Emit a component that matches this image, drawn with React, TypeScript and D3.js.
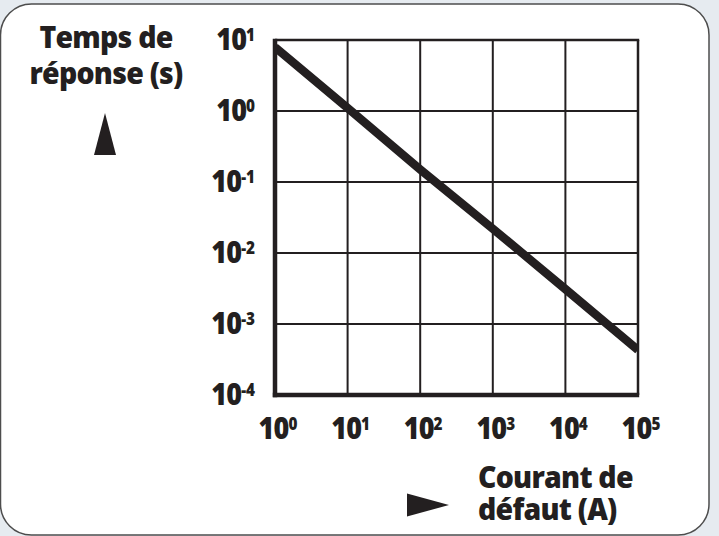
import React from "react";
import * as d3 from "d3";

const W = 719;
const H = 536;

// Data
const currents = [1, 10, 100, 1000, 10000, 100000];
const responseTimes = [7.9, 1.1, 0.15, 0.022, 0.0031, 0.00043];
const xTickExps = [0, 1, 2, 3, 4, 5];
const yTickExps = [1, 0, -1, -2, -3, -4];
const yTitle = ["Temps de", "réponse (s)"];
const xTitle = ["Courant de", "défaut (A)"];

const INK = "#231f20";
const FONT = "'Open Sans', 'Noto Sans', sans-serif";

export default function App() {
  const left = 275, right = 638, top = 40, bottom = 395;
  const x = d3.scaleLog().domain([1, 1e5]).range([left, right]);
  const y = d3.scaleLog().domain([1e-4, 10]).range([bottom, top]);
  const line = d3
    .line<number>()
    .x((_, i) => x(currents[i]))
    .y((d) => y(d));

  const supLabel = (e: number) => (e < 0 ? "-" + Math.abs(e) : String(e));

  const tick = (key: string, tx: number, ty: number, anchor: string, e: number) => (
    <text
      key={key}
      transform={`translate(${tx},${ty}) scale(0.9,1)`}
      textAnchor={anchor}
      fontFamily={FONT}
      fontWeight={800}
      fontSize={30}
      fill={INK}
      letterSpacing={-1}
    >
      10
      <tspan fontSize={17} dy={-9.3} letterSpacing={0}>
        {supLabel(e)}
      </tspan>
    </text>
  );

  return (
    <svg
      width={W}
      height={H}
      style={{ position: "fixed", left: 0, top: 0, background: "#e6ebf0" }}
    >
      <defs>
        <clipPath id="plotClip">
          <rect x={left} y={top} width={right - left} height={bottom - top} />
        </clipPath>
      </defs>
      <rect
        x={0.5}
        y={4}
        width={708.5}
        height={531}
        rx={31}
        ry={31}
        fill="#ffffff"
        stroke="#4d4d4d"
        strokeWidth={1.5}
      />

      {/* grid */}
      {xTickExps.slice(1, -1).map((e) => (
        <line
          key={"gx" + e}
          x1={x(Math.pow(10, e))}
          x2={x(Math.pow(10, e))}
          y1={top}
          y2={bottom}
          stroke={INK}
          strokeWidth={2}
        />
      ))}
      {yTickExps.slice(1, -1).map((e) => (
        <line
          key={"gy" + e}
          x1={left}
          x2={right}
          y1={y(Math.pow(10, e))}
          y2={y(Math.pow(10, e))}
          stroke={INK}
          strokeWidth={2}
        />
      ))}
      {/* top & right border */}
      <line x1={left} x2={right + 1.2} y1={top} y2={top} stroke={INK} strokeWidth={2.5} />
      <line x1={right} x2={right} y1={top} y2={bottom} stroke={INK} strokeWidth={2.5} />

      {/* curve */}
      <path
        d={line(responseTimes) || ""}
        fill="none"
        stroke={INK}
        strokeWidth={8.5}
        clipPath="url(#plotClip)"
      />

      {/* axes */}
      <line x1={left} x2={left} y1={top - 1.2} y2={bottom + 2.2} stroke={INK} strokeWidth={4.5} />
      <line x1={left - 2.2} x2={right + 1.2} y1={bottom} y2={bottom} stroke={INK} strokeWidth={4.5} />

      {/* y tick labels */}
      {yTickExps.map((e) => tick("yt" + e, 255, y(Math.pow(10, e)) + 10, "end", e))}

      {/* x tick labels */}
      {xTickExps.map((e) => tick("xt" + e, x(Math.pow(10, e)) + 3, 439, "middle", e))}

      {/* y title */}
      {yTitle.map((t, i) => (
        <text
          key={"ytl" + i}
          transform={`translate(106,${48 + i * 36}) scale(0.95,1)`}
          textAnchor="middle"
          fontFamily={FONT}
          fontWeight={800}
          fontSize={30}
          fill={INK}
          letterSpacing={-0.8}
        >
          {t}
        </text>
      ))}
      <path d="M105,113 L116,155 L94,155 Z" fill={INK} />

      {/* x title */}
      {xTitle.map((t, i) => (
        <text
          key={"xtl" + i}
          transform={`translate(478,${488 + i * 32}) scale(0.95,1)`}
          textAnchor="start"
          fontFamily={FONT}
          fontWeight={800}
          fontSize={30}
          fill={INK}
          letterSpacing={-0.8}
        >
          {t}
        </text>
      ))}
      <path d="M407,493.5 L449,505 L407,516.5 Z" fill={INK} />
    </svg>
  );
}
